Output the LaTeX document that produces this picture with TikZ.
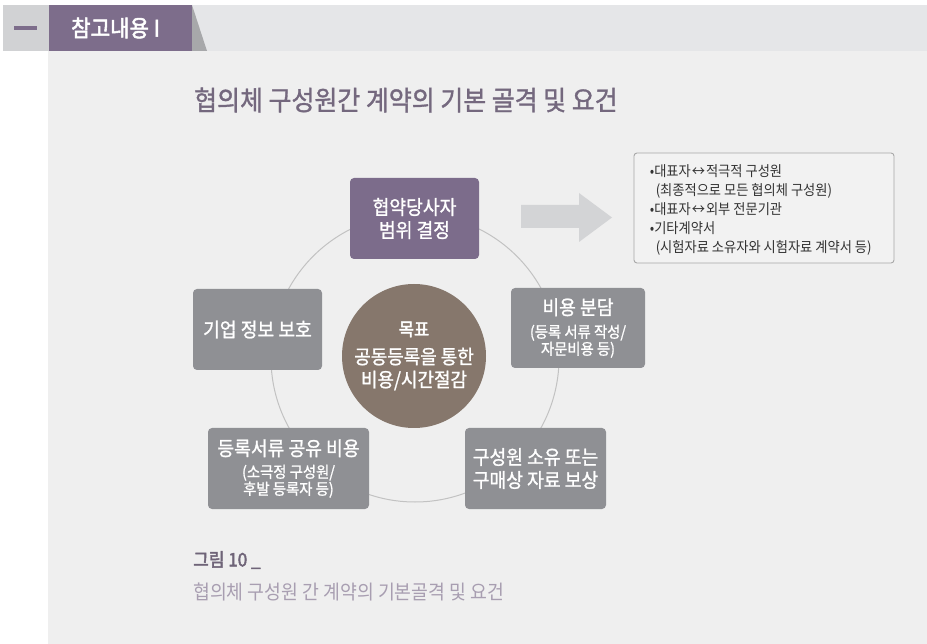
\documentclass[tikz,border=0pt]{standalone}
\usepackage{fontspec}
\setmainfont{Noto Sans CJK KR}[FakeStretch=0.92]
\newfontfamily\kr[FakeStretch=0.92]{Noto Sans CJK KR}
\newfontfamily\krm[FakeStretch=0.92,FakeBold=1.2]{Noto Sans CJK KR}
\newfontfamily\krb[FakeStretch=0.92,FakeBold=2.4]{Noto Sans CJK KR}
\newcommand\fsz[2]{\fontsize{#1}{#2}\selectfont}
\newcommand\subf{\krm\fsz{15.6}{15.5}}
\definecolor{panel}{HTML}{EFEFEF}
\definecolor{band}{HTML}{E5E6E8}
\definecolor{leftblk}{HTML}{D1D2D4}
\definecolor{tabpurple}{HTML}{7D6D8B}
\definecolor{tabshadow}{HTML}{A7A8AA}
\definecolor{titlecol}{HTML}{74687E}
\definecolor{capdark}{HTML}{6F6478}
\definecolor{caplight}{HTML}{A89EB1}
\definecolor{boxgray}{HTML}{8F9094}
\definecolor{boxpurple}{HTML}{7C6C8B}
\definecolor{goalbrown}{HTML}{86776C}
\definecolor{ringcol}{HTML}{C2C2C2}
\definecolor{arrowcol}{HTML}{D3D4D6}
\definecolor{infoborder}{HTML}{A8A8A8}
\definecolor{infofill}{HTML}{F2F2F2}
\definecolor{infotext}{HTML}{333333}
\tikzset{
  box/.style={rectangle, rounded corners=4pt, fill=boxgray, text=white, align=center,
    inner sep=0pt, font=\krm\fsz{19.8}{23}},
  infobox/.style={rectangle, rounded corners=3pt, draw=infoborder, line width=0.9pt,
    fill=infofill, minimum width=260pt, minimum height=110pt, inner sep=0pt},
  infotextstyle/.style={inner sep=0pt, anchor=west, align=left, text=infotext,
    font=\kr\fsz{14.4}{19}},
  plain/.style={inner sep=0pt, anchor=west}
}
\begin{document}
\begin{tikzpicture}[x=1pt,y=-1pt]
\useasboundingbox (0,0) rectangle (927,644);
\fill[white] (0,0) rectangle (927,644);
\fill[panel] (48,51) rectangle (927,644);
% header band
\fill[band] (3,5) rectangle (927,51);
\fill[leftblk] (3,5) rectangle (49,51);
\draw[tabpurple, line width=4pt] (14,28) -- (37,28);
\fill[tabshadow] (192,5) -- (207,51) -- (192,51) -- cycle;
\node[fill=tabpurple, minimum width=143pt, minimum height=46pt, inner sep=0pt] (tab) at (120.5,28) {};
\node[plain, text=white, font=\krb\fsz{23}{26}] (tabtext) at (71,28) {참고내용 I};
% title
\node[plain, text=titlecol, font=\krm\fsz{27.1}{30}] (title) at (194,100) {협의체 구성원간 계약의 기본 골격 및 요건};
% ring
\node[circle, draw=ringcol, line width=1pt, minimum size=288pt, inner sep=0pt] (ring) at (415,358) {};
% goal
\node[circle, fill=goalbrown, text=white, minimum size=144pt, inner sep=0pt, align=center,
  font=\krm\fsz{19.5}{23}] (goal) at (414,356)
  {{\krb\fsz{18}{23}목표}\\[5pt]공동등록을 통한\\비용/시간절감};
% boxes
\node[box, fill=boxpurple, minimum width=129pt, minimum height=81pt] (top) at (414.5,218.5)
  {협약당사자\\범위 결정};
\node[box, minimum width=129pt, minimum height=81pt] (left) at (257.5,329.5)
  {기업 정보 보호};
\node[box, minimum width=134pt, minimum height=80pt] (right) at (578,328)
  {비용 분담\\[0pt]\subf (등록 서류 작성/\\[-6pt]\subf 자문비용 등)};
\node[box, minimum width=161pt, minimum height=81pt] (bl) at (288.5,468.5)
  {등록서류 공유 비용\\[-1pt]\subf (소극정 구성원/\\[-6pt]\subf 후발 등록자 등)};
\node[box, minimum width=141pt, minimum height=81pt] (br) at (535.5,468.5)
  {구성원 소유 또는\\구매상 자료 보상};
% info box
\node[infobox] (info) at (764,208) {};
\node[infotextstyle] (infotext) at ([xshift=16pt,yshift=-1.5pt]info.west)
  {•대표자\kern1pt↔\kern1pt적극적 구성원\\
   \hspace*{6pt}(최종적으로 모든 협의체 구성원)\\
   •대표자\kern1pt↔\kern1pt외부 전문기관\\
   •기타계약서\\
   \hspace*{6pt}(시험자료 소유자와 시험자료 계약서 등)};
% block arrow
\fill[arrowcol] (521,205) -- (579,205) -- (579,193) -- (612,217.5) -- (579,242) -- (579,228) -- (521,228) -- cycle;
% caption
\node[plain, text=capdark, font=\krb\fsz{18.5}{22}] (cap1) at (193,560) {그림 10 \_};
\node[plain, text=caplight, font=\kr\fsz{19.9}{22}] (cap2) at (193,592) {협의체 구성원 간 계약의 기본골격 및 요건};
\end{tikzpicture}
\end{document}
